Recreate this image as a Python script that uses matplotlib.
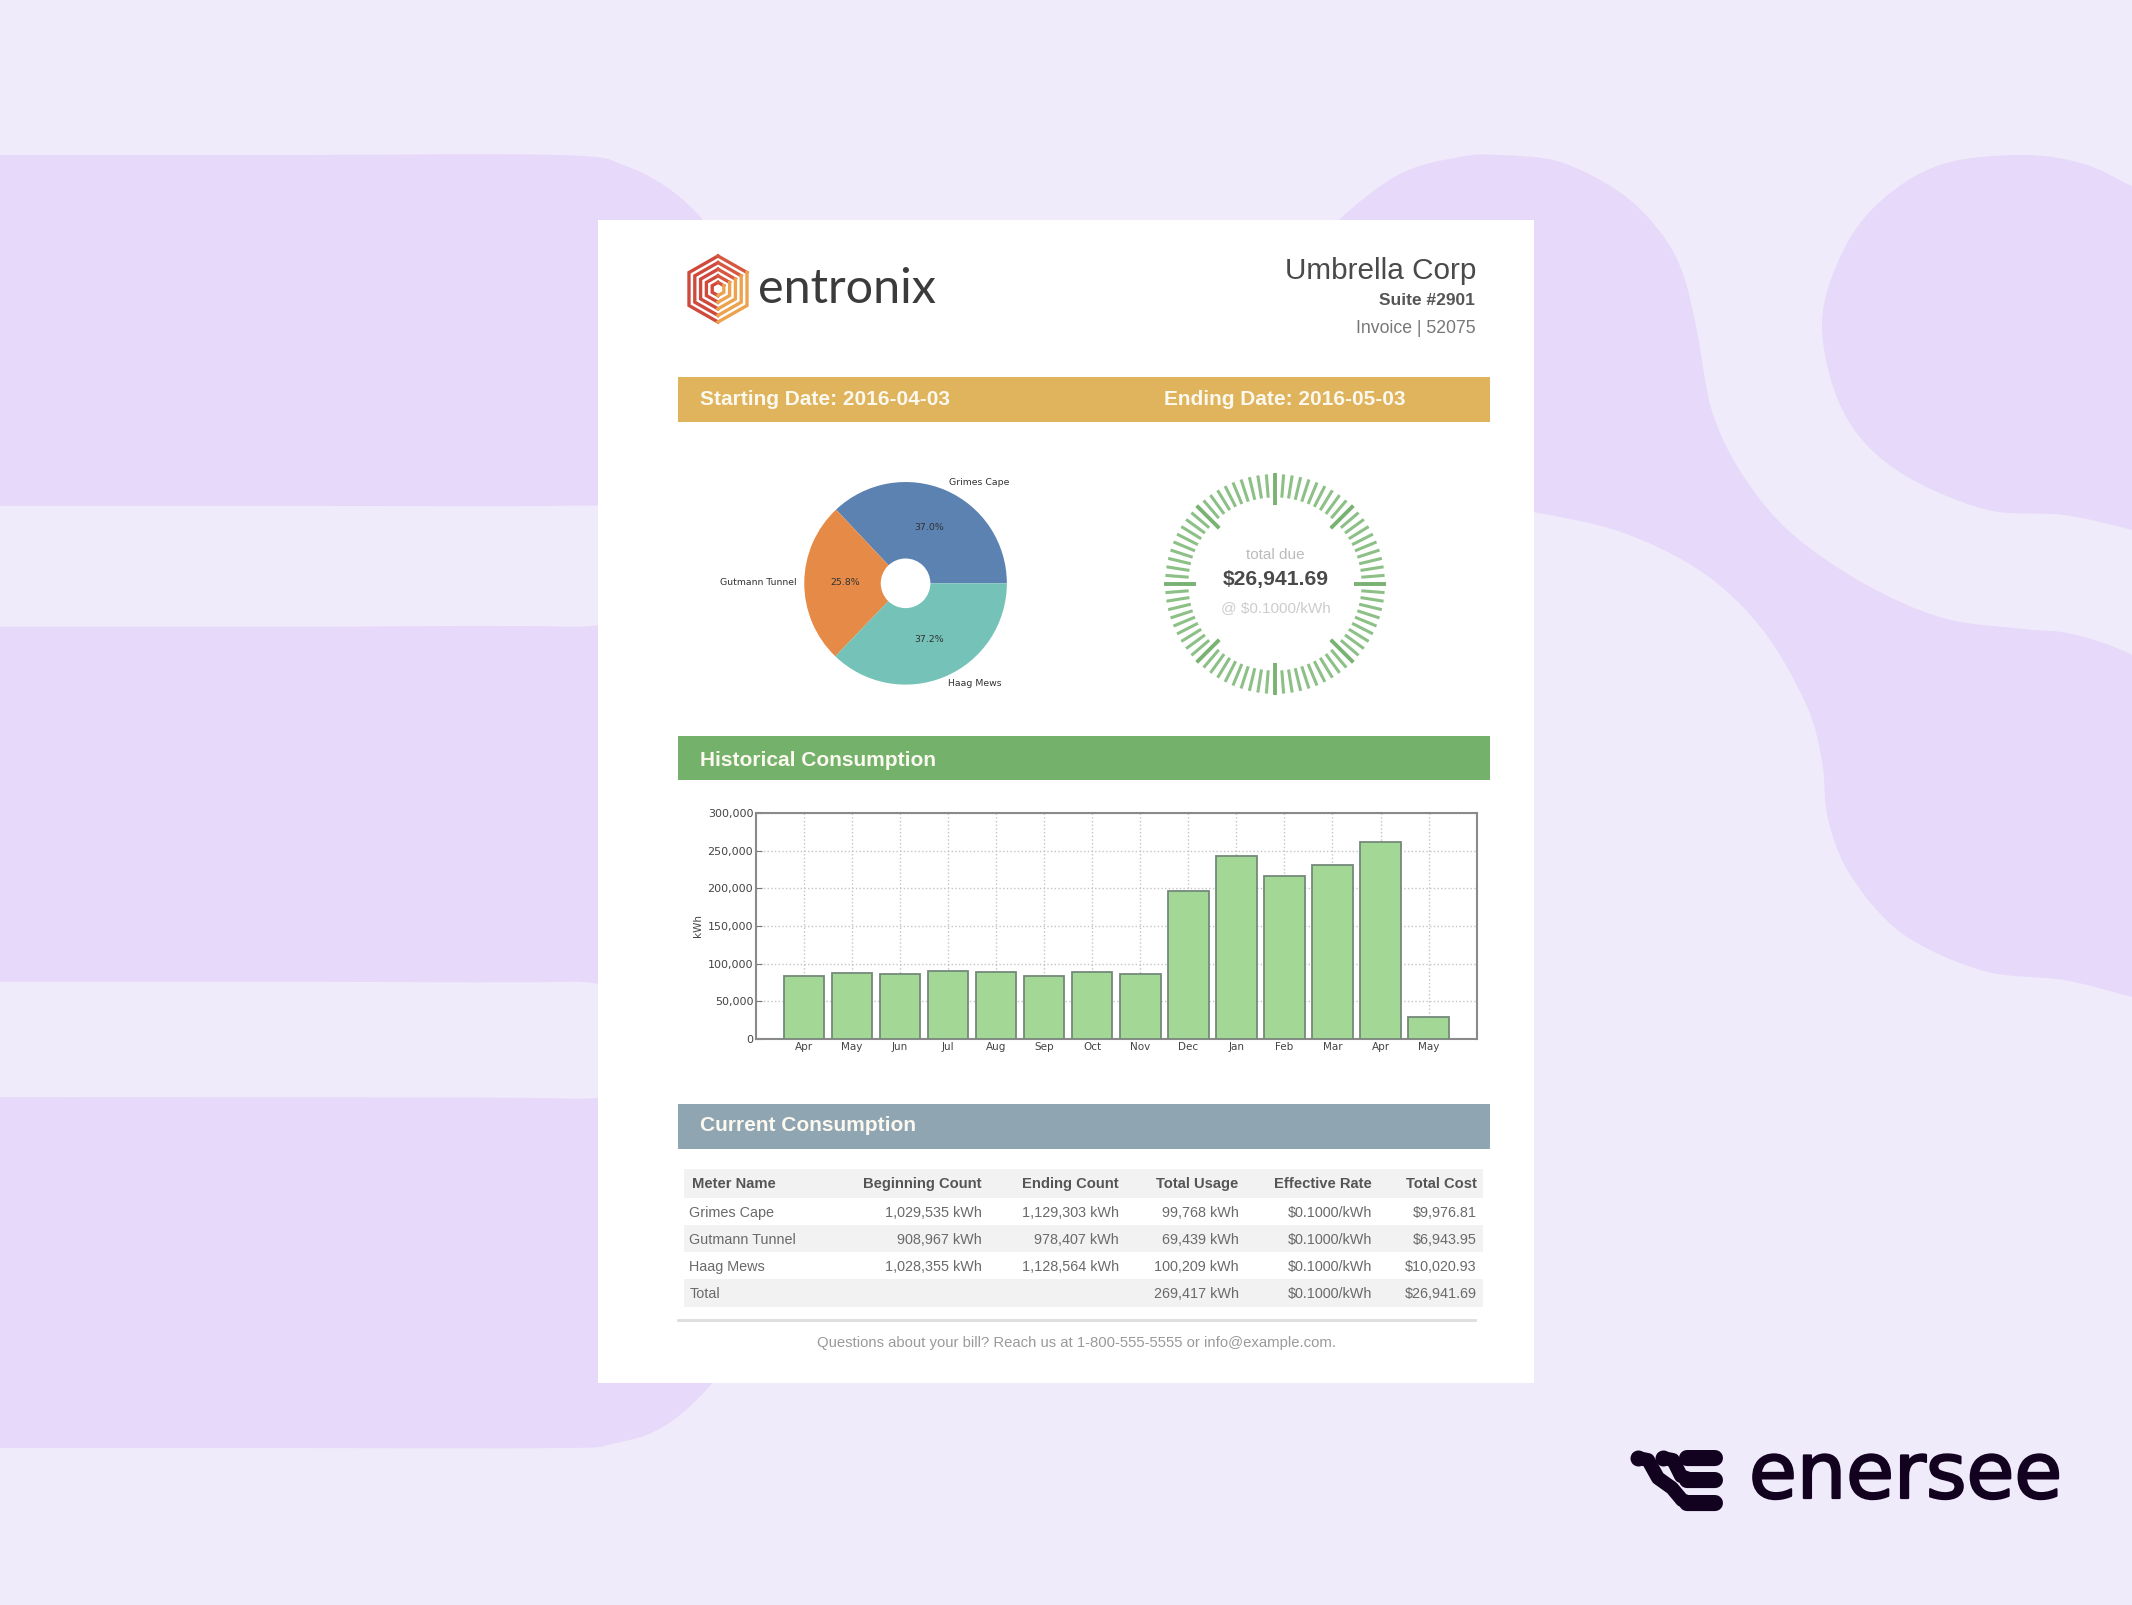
import numpy as np
import matplotlib
matplotlib.use('Agg')
import matplotlib.pyplot as plt
from matplotlib.path import Path
from matplotlib.patches import PathPatch, Rectangle, Circle, FancyBboxPatch
import matplotlib.patheffects as pe

W, H = 2132, 1605
S = 2132 / 1568  # I measured most things on the smaller preview

# pie data
meters = ['Grimes Cape', 'Gutmann Tunnel', 'Haag Mews']
usage = [99768, 69439, 100209]
pie_colors = ['#5b82b1', '#e68a48', '#74c2b8']

# bar data
months = ['Apr', 'May', 'Jun', 'Jul', 'Aug', 'Sep', 'Oct', 'Nov', 'Dec', 'Jan', 'Feb', 'Mar', 'Apr', 'May']
kwh = [84000, 88000, 86000, 90000, 89000, 84000, 89000, 86000, 196000, 243000, 217000, 231000, 261000, 29000]
y_ticks = [0, 50000, 100000, 150000, 200000, 250000, 300000]

# table
header = ['Meter Name', 'Beginning Count', 'Ending Count', 'Total Usage', 'Effective Rate', 'Total Cost']
rows = [
    ['Grimes Cape', '1,029,535 kWh', '1,129,303 kWh', '99,768 kWh', '$0.1000/kWh', '$9,976.81'],
    ['Gutmann Tunnel', '908,967 kWh', '978,407 kWh', '69,439 kWh', '$0.1000/kWh', '$6,943.95'],
    ['Haag Mews', '1,028,355 kWh', '1,128,564 kWh', '100,209 kWh', '$0.1000/kWh', '$10,020.93'],
    ['Total', '', '', '269,417 kWh', '$0.1000/kWh', '$26,941.69'],
]
col_right = [0, 722, 823, 911, 1009, 1086]
row_y = [892, 912, 932, 952]

n_gauge = 80

plt.rcParams['font.family'] = ['Liberation Sans', 'DejaVu Sans']

fig = plt.figure(figsize=(W / 100, H / 100), dpi=100, facecolor='#f0ebfa')
bg = fig.add_axes([0, 0, 1, 1])
bg.set_xlim(0, W)
bg.set_ylim(H, 0)
bg.axis('off')


def sub_axes(x0, y0, x1, y1, **kw):
    return fig.add_axes([x0 / W, 1 - y1 / H, (x1 - x0) / W, (y1 - y0) / H], **kw)


def blob(pts, scale=1.0, color='#e7d9f9'):
    # smooth line through the points, closed off straight
    p = np.array(pts, dtype=float) * scale
    verts = [p[0]]
    codes = [Path.MOVETO]
    for i in range(len(p) - 1):
        a = p[max(i - 1, 0)]
        b = p[i]
        c = p[i + 1]
        d = p[min(i + 2, len(p) - 1)]
        verts += [b + (c - a) / 6, c - (d - b) / 6, c]
        codes += [Path.CURVE4] * 3
    verts.append(p[0])
    codes.append(Path.CLOSEPOLY)
    bg.add_patch(PathPatch(Path(verts, codes), fc=color, ec='none', zorder=1))


# background shapes
blob([(-60, 114), (200, 114), (410, 114), (460, 122), (500, 145), (530, 180), (560, 240), (560, 340), (470, 368),
      (410, 372), (200, 372), (-60, 372)], S)
blob([(-60, 461), (200, 461), (420, 461), (500, 470), (500, 715), (420, 722), (200, 722), (-60, 722)], S)
blob([(-60, 807), (200, 807), (420, 808), (500, 815), (560, 960), (530, 1010), (490, 1048), (450, 1062), (410, 1065),
      (200, 1065), (-60, 1065)], S)
blob([(1300, 270), (1339, 220), (1400, 174), (1460, 157), (1500, 155), (1560, 162), (1621, 193), (1661, 233),
      (1683, 274), (1697, 331), (1712, 411), (1742, 474), (1790, 532), (1863, 583), (1943, 618), (2024, 629),
      (2072, 634), (2132, 655), (2200, 700), (2200, 1015), (2132, 997), (2064, 980), (1984, 971), (1903, 934),
      (1851, 876), (1828, 819), (1822, 761), (1806, 704), (1762, 629), (1702, 572), (1621, 532), (1533, 512),
      (1450, 500), (1350, 450)])
blob([(2200, 215), (2132, 186), (2084, 164), (2024, 155), (1943, 164), (1883, 199), (1843, 251), (1822, 325),
      (1843, 411), (1895, 469), (1984, 509), (2064, 515), (2132, 530), (2200, 550)])

# page
bg.add_patch(Rectangle((598, 220), 936, 1163, fc='white', ec='none', zorder=2))

# entronix logo, nested hexagons split in two colours
lx, ly = 718, 289
for k in [1.0, 0.8, 0.6, 0.4, 0.2]:
    rx, ry = 29 * k, 33 * k
    bg.plot([lx, lx - rx, lx - rx, lx], [ly - ry, ly - ry * 0.5, ly + ry * 0.5, ly + ry],
            color='#cf4a3c', lw=2.4, zorder=3, solid_joinstyle='miter')
    bg.plot([lx, lx + rx], [ly - ry, ly - ry * 0.5], color='#d8583f', lw=2.4, zorder=3)
    bg.plot([lx + rx, lx + rx, lx], [ly - ry * 0.5, ly + ry * 0.5, ly + ry], color='#eda24e', lw=2.4, zorder=3,
            solid_joinstyle='miter')
bg.text(758, 289, 'entronix', family='Lato', fontsize=35, color='#3b3b3b', va='center', zorder=3)

# top right block
bg.text(1086 * S, 199 * S, 'Umbrella Corp', fontsize=21.4, color='#4a4a4a', ha='right', va='center', zorder=3)
bg.text(1085 * S, 221 * S, 'Suite #2901', fontsize=12.5, weight='bold', color='#555555', ha='right', va='center', zorder=3)
bg.text(1085 * S, 241.5 * S, 'Invoice | 52075', fontsize=12.7, color='#777777', ha='right', va='center', zorder=3)

# coloured bands
for y0, y1, c in [(277, 310, '#e0b45c'), (541, 574, '#74b26b'), (812, 845, '#90a5b2')]:
    bg.add_patch(Rectangle((499 * S, y0 * S), 597 * S, (y1 - y0) * S, fc=c, ec='none', zorder=3))
for x, y, s in [(515, 294, 'Starting Date: 2016-04-03'), (856, 294, 'Ending Date: 2016-05-03'),
                (515, 559, 'Historical Consumption'), (515, 828, 'Current Consumption')]:
    bg.text(x * S, y * S, s, fontsize=15, weight='bold', color='#fbf8ef', va='center', zorder=4)

# pie
cx, cy, R = 666 * S, 429 * S, 74.5 * S
pie_ax = sub_axes(cx - R * 1.25, cy - R * 1.25, cx + R * 1.25, cy + R * 1.25)
pie_ax.patch.set_alpha(0)
wedges, texts, autotexts = pie_ax.pie(usage, labels=meters, colors=pie_colors, autopct='%.1f%%', labeldistance=1.08,
                                      textprops={'fontsize': 6.75, 'family': 'DejaVu Sans', 'color': '#333333'})
pie_ax.add_patch(Circle((0, 0), 0.245, fc='white', ec='none', zorder=5))
pie_ax.set_xlim(-1.25, 1.25)
pie_ax.set_ylim(-1.25, 1.25)

# gauge
gx, gy, gr = 1275, 584, 111
g_ax = sub_axes(gx - gr, gy - gr, gx + gr, gy + gr, projection='polar')
g_ax.patch.set_alpha(0)
g_ax.axis('off')
theta = np.arange(n_gauge) * 2 * np.pi / n_gauge
major = np.arange(n_gauge) % 10 == 0
g_ax.vlines(theta[~major], 0.78, 0.99, color='#8cc086', lw=2.2)
g_ax.vlines(theta[major], 0.71, 1.0, color='#7ab274', lw=2.8)
g_ax.set_ylim(0, 1)
bg.text(938 * S, 408 * S, 'total due', fontsize=11, color='#bbbbbb', ha='center', va='center', zorder=4)
bg.text(938 * S, 426.5 * S, '$26,941.69', fontsize=15.2, weight='bold', color='#4a4a4a', ha='center', va='center', zorder=4)
bg.text(938 * S, 447.5 * S, '@ $0.1000/kWh', fontsize=11, color='#cccccc', ha='center', va='center', zorder=4)

# bars
bar_ax = sub_axes(556 * S, 598 * S, 1086 * S, 764 * S)
x = np.arange(len(months))
bar_ax.bar(x, kwh, width=0.84, color='#a2d796', edgecolor='#75897a', linewidth=1.3, zorder=3)
bar_ax.set_xlim(-1, len(months))
bar_ax.set_ylim(0, 300000)
bar_ax.set_xticks(x)
bar_ax.set_xticklabels(months, family='DejaVu Sans', fontsize=7.5, color='#444444')
bar_ax.set_yticks(y_ticks)
bar_ax.set_yticklabels([f'{v:,}' for v in y_ticks], family='DejaVu Sans', fontsize=8, color='#444444')
bar_ax.set_ylabel('kWh', family='DejaVu Sans', fontsize=7.5, color='#444444', labelpad=3)
bar_ax.grid(True, linestyle=':', color='#c4c4c4', linewidth=1, zorder=0)
bar_ax.tick_params(length=4, width=0.8, color='#777777', pad=2, direction='in')
for sp in bar_ax.spines.values():
    sp.set_color('#8a8a8a')
    sp.set_linewidth(1.5)

# table stripes
for y0, y1 in [(860, 881), (901, 921), (941, 961)]:
    bg.add_patch(Rectangle((503 * S, y0 * S), 588 * S, (y1 - y0) * S, fc='#f2f2f2', ec='none', zorder=3))
for j, name in enumerate(header):
    if j == 0:
        bg.text(509 * S, 871 * S, name, fontsize=10.6, weight='bold', color='#555555', va='center', zorder=4)
    else:
        bg.text(col_right[j] * S, 871 * S, name, fontsize=10.6, weight='bold', color='#555555', ha='right', va='center', zorder=4)
for y, row in zip(row_y, rows):
    for j, val in enumerate(row):
        if j == 0:
            bg.text(507 * S, y * S, val, fontsize=10.4, color='#6a6a6a', va='center', zorder=4)
        else:
            bg.text(col_right[j] * S, y * S, val, fontsize=10.4, color='#6a6a6a', ha='right', va='center', zorder=4)
bg.plot([499 * S, 1085 * S], [970.5 * S, 970.5 * S], color='#dddddd', lw=2, zorder=3)
bg.text(791.5 * S, 988 * S, 'Questions about your bill? Reach us at 1-800-555-5555 or info@example.com.',
        fontsize=10.7, color='#9a9a9a', ha='center', va='center', zorder=4)

# enersee logo
ink = '#120220'
for y0 in [1450, 1472, 1495]:
    bg.add_patch(FancyBboxPatch((1687, y0 + 8), 28, 0.1, boxstyle='round,pad=0,rounding_size=0.01', fc=ink, ec=ink,
                                lw=11.5, capstyle='round', joinstyle='round', zorder=3))
bg.plot([1638, 1648, 1658, 1672, 1682, 1690], [1458, 1460, 1478, 1488, 1500, 1503], color=ink, lw=10,
        solid_capstyle='round', zorder=3)
bg.plot([1663, 1673, 1681, 1692], [1458, 1460, 1476, 1480], color=ink, lw=10, solid_capstyle='round', zorder=3)
bg.plot([1638, 1663], [1458, 1458], ls='none', marker='o', ms=11.5, color=ink, mew=0, zorder=3)
bg.text(1749, 1498, 'enersee', family='DejaVu Sans', fontsize=56, color=ink, va='baseline', zorder=3,
        path_effects=[pe.withStroke(linewidth=1.6, foreground=ink)])

fig.savefig('out.png', dpi=100, facecolor=fig.get_facecolor())
